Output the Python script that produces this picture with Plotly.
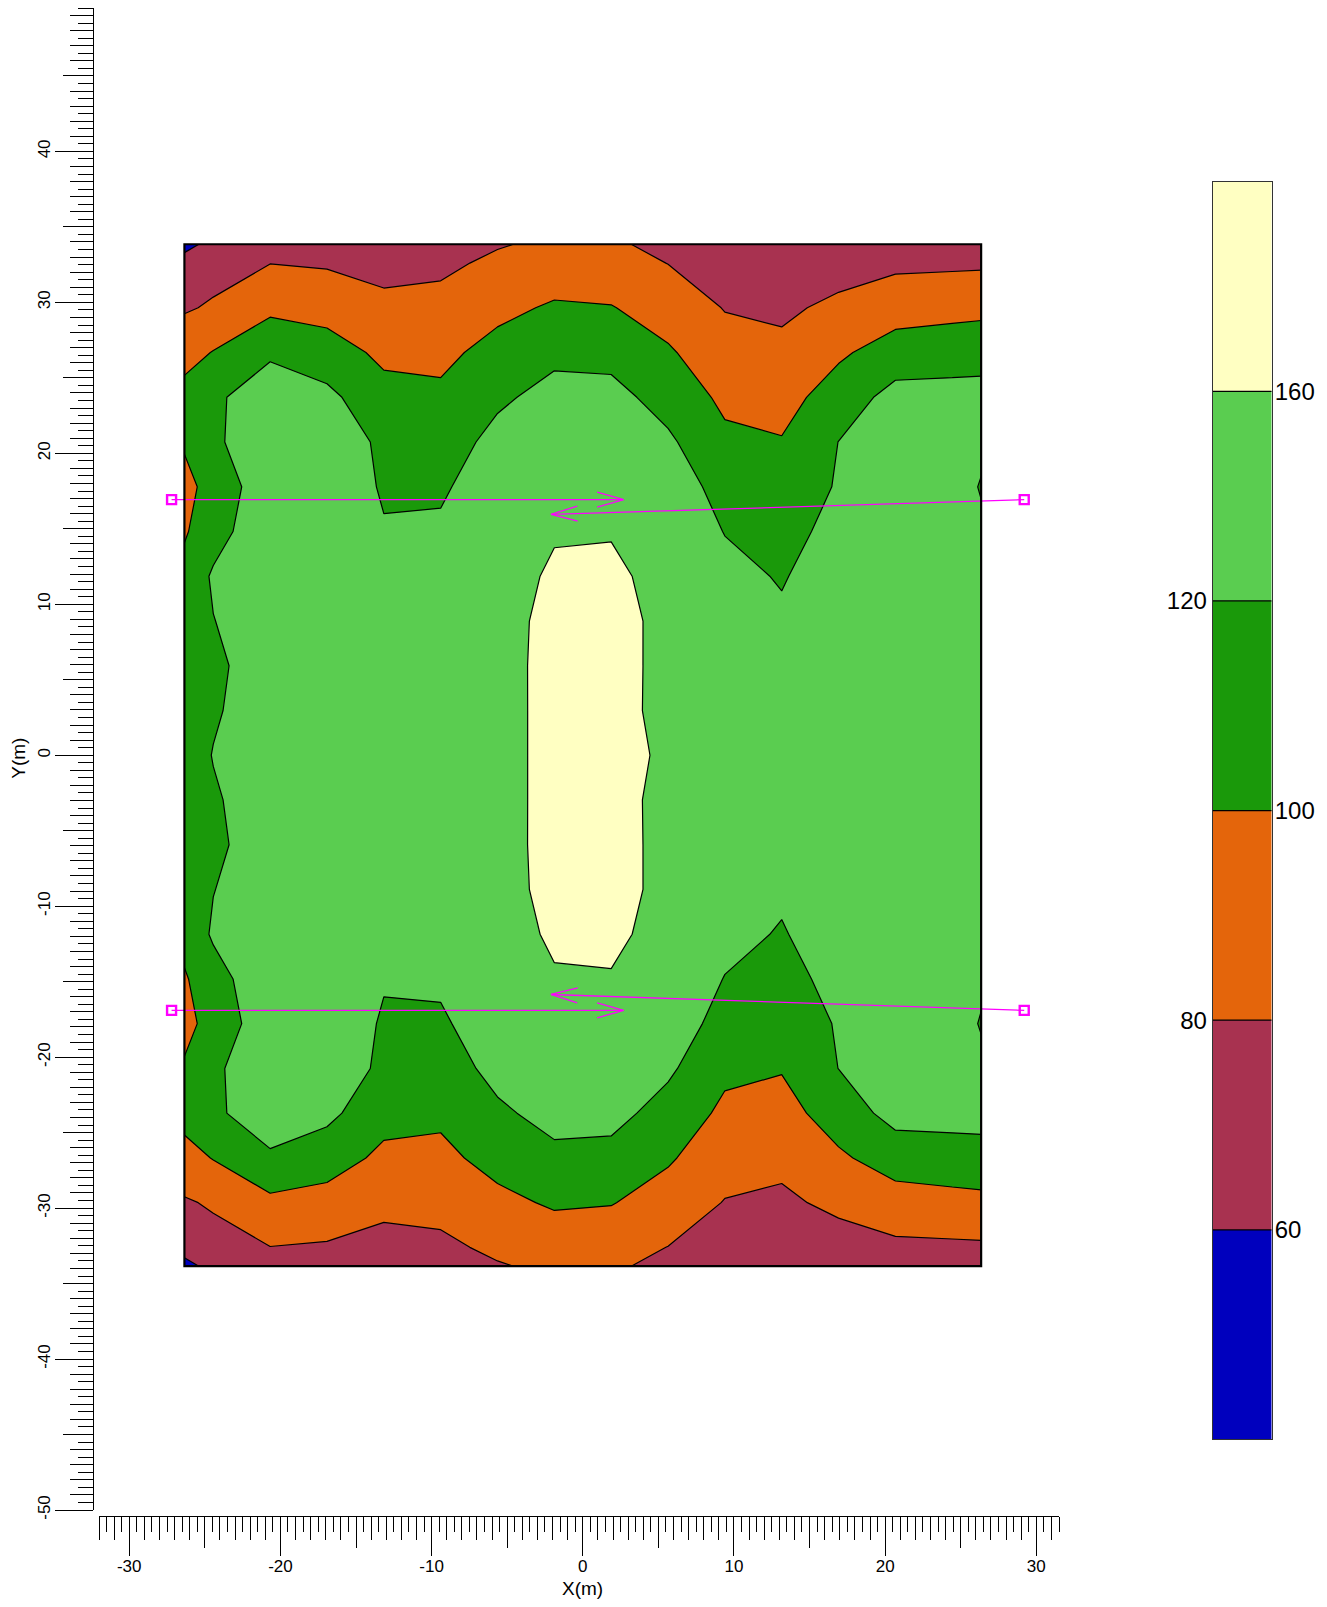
import plotly.graph_objects as go

# ---------------- data ----------------
x_nodes = [-26.35, -24.44, -20.68, -16.92, -13.16, -9.40, -5.64, -1.88,
           1.88, 5.64, 9.40, 13.16, 16.92, 20.68, 24.44, 26.35]
y_nodes = [-33.85, -32.60, -29.64, -26.68, -23.71, -20.75, -17.78, -14.82,
           -11.86, -8.89, -5.93, -2.96, 0.0, 2.96, 5.93, 8.89, 11.86, 14.82,
           17.78, 20.75, 23.71, 26.68, 29.64, 32.60, 33.85]

# rows from bottom (y=-33.85) to top (y=33.85)
z_values = [
    [56.0, 64.0, 72.8, 71.7, 69.0, 72.2, 78.6, 83.6, 81.9, 76.5, 67.2, 64.4, 66.4, 69.5, 69.6, 69.6],
    [65.0, 73.0, 79.7, 78.0, 73.7, 76.2, 83.6, 89.1, 87.5, 79.7, 70.7, 67.9, 71.7, 76.1, 76.8, 77.2],
    [78.0, 82.2, 95.8, 93.0, 85.0, 85.8, 95.3, 102.3, 100.9, 91.3, 79.2, 76.4, 84.4, 91.9, 93.9, 95.2],
    [93.0, 100.8, 115.8, 108.5, 96.1, 95.5, 106.3, 115.5, 114.2, 102.3, 87.6, 84.8, 97.1, 108.6, 111.3, 112.1],
    [106.7, 115.0, 136.0, 125.0, 106.0, 103.5, 116.6, 126.5, 126.0, 112.7, 96.0, 93.2, 108.8, 127.0, 126.8, 127.1],
    [103.0, 116.2, 135.0, 128.0, 117.5, 110.1, 126.0, 136.5, 136.7, 123.2, 104.0, 101.1, 120.2, 130.0, 130.0, 125.0],
    [92.0, 110.0, 130.0, 132.0, 118.2, 116.8, 133.0, 146.5, 147.3, 133.0, 111.5, 106.7, 121.8, 133.0, 131.0, 118.5],
    [98.0, 112.0, 135.0, 134.0, 121.2, 123.5, 137.0, 156.4, 157.9, 141.0, 119.1, 112.3, 127.0, 135.0, 131.0, 124.0],
    [106.0, 122.5, 134.0, 135.0, 127.0, 128.0, 141.2, 166.3, 167.0, 148.0, 127.9, 117.9, 135.0, 137.0, 132.0, 126.0],
    [106.0, 119.5, 132.0, 136.0, 133.0, 134.0, 149.8, 168.0, 168.0, 153.7, 134.0, 124.3, 137.0, 138.0, 132.0, 127.0],
    [105.0, 115.0, 133.0, 137.0, 136.0, 138.0, 149.9, 169.0, 169.0, 152.9, 137.0, 130.0, 138.0, 138.0, 132.0, 127.0],
    [106.0, 117.3, 133.0, 137.0, 137.0, 140.0, 148.7, 170.0, 169.0, 152.6, 138.0, 133.0, 139.0, 138.0, 132.0, 127.0],
    [108.0, 120.9, 133.0, 137.0, 138.0, 141.0, 148.7, 170.0, 169.0, 155.8, 139.0, 134.0, 139.0, 138.0, 132.0, 127.0],
    [106.0, 117.3, 133.0, 137.0, 137.0, 140.0, 148.7, 170.0, 169.0, 152.6, 138.0, 133.0, 139.0, 138.0, 132.0, 127.0],
    [105.0, 115.0, 133.0, 137.0, 136.0, 138.0, 149.9, 169.0, 169.0, 152.9, 137.0, 130.0, 138.0, 138.0, 132.0, 127.0],
    [106.0, 119.5, 132.0, 136.0, 133.0, 134.0, 149.8, 168.0, 168.0, 153.7, 134.0, 124.3, 137.0, 138.0, 132.0, 127.0],
    [106.0, 122.5, 134.0, 135.0, 127.0, 128.0, 141.2, 166.3, 167.0, 148.0, 127.9, 117.9, 135.0, 137.0, 132.0, 126.0],
    [98.0, 112.0, 135.0, 134.0, 121.2, 123.5, 137.0, 156.4, 157.9, 141.0, 119.1, 112.3, 127.0, 135.0, 131.0, 124.0],
    [92.0, 110.0, 130.0, 132.0, 118.2, 116.8, 133.0, 146.5, 147.3, 133.0, 111.5, 106.7, 121.8, 133.0, 131.0, 118.5],
    [103.0, 116.2, 135.0, 128.0, 117.5, 110.1, 126.0, 136.5, 136.7, 123.2, 104.0, 101.1, 120.2, 130.0, 130.0, 125.0],
    [106.7, 115.0, 136.0, 125.0, 106.0, 103.5, 116.6, 126.5, 126.0, 112.7, 96.0, 93.2, 108.8, 127.0, 126.8, 127.1],
    [93.0, 100.8, 115.8, 108.5, 96.1, 95.5, 106.3, 115.5, 114.2, 102.3, 87.6, 84.8, 97.1, 108.6, 111.3, 112.1],
    [78.0, 82.2, 95.8, 93.0, 85.0, 85.8, 95.3, 102.3, 100.9, 91.3, 79.2, 76.4, 84.4, 91.9, 93.9, 95.2],
    [65.0, 73.0, 79.7, 78.0, 73.7, 76.2, 83.6, 89.1, 87.5, 79.7, 70.7, 67.9, 71.7, 76.1, 76.8, 77.2],
    [56.0, 64.0, 72.8, 71.7, 69.0, 72.2, 78.6, 83.6, 81.9, 76.5, 67.2, 64.4, 66.4, 69.5, 69.6, 69.6],
]

levels = [60, 80, 100, 120, 160]
level_labels = ["60", "80", "100", "120", "160"]
band_colors = ["#0000BE", "#A83250", "#E4650B", "#1A990A", "#5ACD50", "#FFFFC2"]

# survey lines (start -> end, arrow at end)
line_x0 = [-27.2, 29.2, -27.2, 29.2]
line_y0 = [16.93, 16.93, -16.9, -16.9]
line_x1 = [2.7, -2.1, 2.7, -2.1]
line_y1 = [16.93, 15.95, -16.9, -15.85]

x_range = [-32, 31.5]
y_range = [-50, 49.5]
x_label_ticks = [-30, -20, -10, 0, 10, 20, 30]
y_label_ticks = [-50, -40, -30, -20, -10, 0, 10, 20, 30, 40]

FONT = "Liberation Sans, Arial, sans-serif"
MAGENTA = "#FF00FF"

# ---------------- figure ----------------
fig = go.Figure()

for lv, col in zip(levels, band_colors[1:]):
    fig.add_trace(go.Contour(
        x=x_nodes, y=y_nodes, z=z_values,
        contours=dict(type="constraint", operation="<", value=lv),
        fillcolor=col,
        line=dict(color="black", width=1.2, smoothing=0),
        showscale=False, hoverinfo="skip", xaxis="x", yaxis="y"))

# survey lines with open arrowheads
head_len, head_half = 1.75, 0.5
for xa, ya, xb, yb in zip(line_x0, line_y0, line_x1, line_y1):
    dx, dy = xb - xa, yb - ya
    n = (dx * dx + dy * dy) ** 0.5
    ux, uy = dx / n, dy / n
    px, py = -uy, ux
    hx = [xb - head_len * ux + head_half * px, xb, xb - head_len * ux - head_half * px]
    hy = [yb - head_len * uy + head_half * py, yb, yb - head_len * uy - head_half * py]
    fig.add_trace(go.Scatter(x=[xa, xb, None] + hx, y=[ya, yb, None] + hy,
                             mode="lines", line=dict(color=MAGENTA, width=1.3),
                             hoverinfo="skip", xaxis="x", yaxis="y"))
    fig.add_trace(go.Scatter(x=[xa], y=[ya], mode="markers",
                             marker=dict(symbol="square-open", size=9, color=MAGENTA,
                                         line=dict(width=2.4, color=MAGENTA)),
                             hoverinfo="skip", xaxis="x", yaxis="y"))

# invisible traces to activate overlay tick axes
fig.add_trace(go.Scatter(x=[None], y=[None], xaxis="x3", yaxis="y", showlegend=False))
fig.add_trace(go.Scatter(x=[None], y=[None], xaxis="x", yaxis="y4", showlegend=False))

# ---------------- colour bar (own axes) ----------------
nb = len(band_colors)
cs = []
for i, c in enumerate(band_colors):
    cs.append([i / nb, c])
    cs.append([(i + 1) / nb, c])
fig.add_trace(go.Heatmap(z=[[i] for i in range(nb)], x0=0.5, dx=1, y0=0.5, dy=1,
                         colorscale=cs, zmin=-0.5, zmax=nb - 0.5, showscale=False,
                         hoverinfo="skip", xaxis="x2", yaxis="y2"))
sep_x, sep_y = [], []
for i in range(1, nb):
    sep_x += [0, 1, None]
    sep_y += [i, i, None]
fig.add_trace(go.Scatter(x=sep_x, y=sep_y, mode="lines", line=dict(color="black", width=1.2),
                         hoverinfo="skip", xaxis="x2", yaxis="y3"))

# ---------------- layout ----------------
W, H = 1311, 1591
ML, MB = 85, 83
PW, PH = W - ML, H - MB

def fx(px):  # page px -> paper fraction
    return (px - 8 - ML) / PW

def fy(py):
    return (PH - (py - 8)) / PH

tick_common = dict(ticks="outside", tickcolor="black", tickwidth=1.2,
                   showgrid=False, zeroline=False)

left_ticks = [i + 1 for i, _ in enumerate(levels) if i % 2 == 1]
right_ticks = [i + 1 for i, _ in enumerate(levels) if i % 2 == 0]

fig.update_layout(
    width=W, height=H,
    margin=dict(l=ML, r=0, t=0, b=MB, pad=0),
    paper_bgcolor="white", plot_bgcolor="white",
    showlegend=False,
    font=dict(family=FONT, color="black"),
    xaxis=dict(range=x_range, domain=[fx(99), fx(1059)], anchor="free", position=0,
               showline=True, linecolor="black", linewidth=1.3,
               tickmode="array", tickvals=x_label_ticks,
               ticktext=[str(v) for v in x_label_ticks], ticklen=39,
               ticklabelstandoff=-5,
               tickfont=dict(size=17, family=FONT),
               minor=dict(dtick=5, tick0=0, ticklen=31, ticks="outside",
                          tickcolor="black", tickwidth=1.2, showgrid=False),
               **tick_common),
    xaxis3=dict(range=x_range, overlaying="x", anchor="free", position=0,
                showline=False, tickmode="linear", tick0=0, dtick=1, ticklen=23,
                showticklabels=False,
                minor=dict(dtick=0.5, tick0=0, ticklen=15, ticks="outside",
                           tickcolor="black", tickwidth=1.2, showgrid=False),
                **tick_common),
    yaxis=dict(range=y_range, domain=[fy(1510), 1], anchor="free", position=0,
               showline=True, linecolor="black", linewidth=1.3,
               tickmode="array", tickvals=y_label_ticks,
               ticktext=[str(v) for v in y_label_ticks], ticklen=38, tickangle=-90,
               ticklabelstandoff=-2,
               tickfont=dict(size=17, family=FONT),
               minor=dict(dtick=5, tick0=0, ticklen=30, ticks="outside",
                          tickcolor="black", tickwidth=1.2, showgrid=False),
               **tick_common),
    yaxis4=dict(range=y_range, overlaying="y", anchor="free", position=0,
                showline=False, tickmode="linear", tick0=0, dtick=1, ticklen=23,
                showticklabels=False,
                minor=dict(dtick=0.5, tick0=0, ticklen=15, ticks="outside",
                           tickcolor="black", tickwidth=1.2, showgrid=False),
                **tick_common),
    xaxis2=dict(range=[0, 1], domain=[fx(1212.7), fx(1271.7)], anchor="y2",
                showline=True, mirror=True, linecolor="#333333", linewidth=1,
                showticklabels=False, ticks="", showgrid=False, zeroline=False),
    yaxis2=dict(range=[0, nb], domain=[fy(1439.4), fy(181.7)], anchor="x2",
                showline=True, mirror=True, linecolor="#333333", linewidth=1,
                tickmode="array", tickvals=left_ticks,
                ticktext=[level_labels[i - 1] for i in left_ticks],
                ticks="", tickfont=dict(size=24, family=FONT),
                showgrid=False, zeroline=False),
    yaxis3=dict(range=[0, nb], overlaying="y2", anchor="x2", side="right",
                showline=False, tickmode="array", tickvals=right_ticks,
                ticktext=[level_labels[i - 1] for i in right_ticks],
                ticklabelstandoff=2,
                ticks="", tickfont=dict(size=24, family=FONT),
                showgrid=False, zeroline=False),
    shapes=[
        dict(type="rect", xref="x", yref="y", x0=min(x_nodes), x1=max(x_nodes),
             y0=min(y_nodes), y1=max(y_nodes), fillcolor=band_colors[0],
             line=dict(width=0), layer="below"),
        dict(type="rect", xref="x", yref="y", x0=min(x_nodes), x1=max(x_nodes),
             y0=min(y_nodes), y1=max(y_nodes), line=dict(color="black", width=2.2),
             layer="above"),
    ],
    annotations=[
        dict(text="X(m)", xref="x", yref="paper", x=0, y=fy(1589),
             showarrow=False, font=dict(size=19, family=FONT), xanchor="center", yanchor="middle"),
        dict(text="Y(m)", xref="paper", yref="y", x=fx(18.5), y=-0.2, textangle=-90,
             showarrow=False, font=dict(size=19, family=FONT), xanchor="center", yanchor="middle"),
    ],
)

fig.write_html("out.html")
